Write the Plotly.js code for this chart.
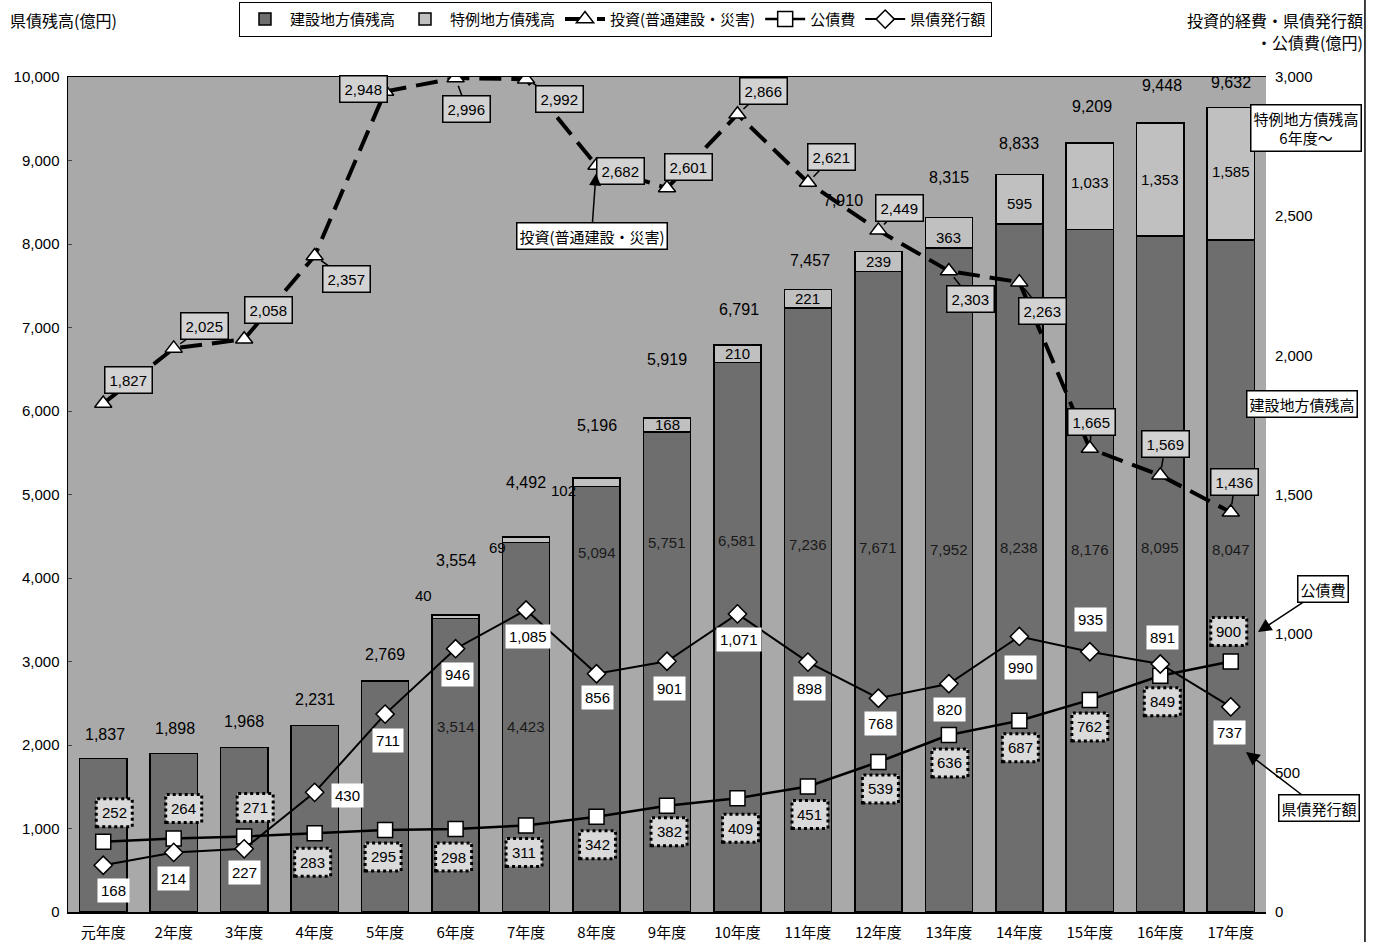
<!DOCTYPE html>
<html>
<head>
<meta charset="utf-8">
<script src="https://cdn.plot.ly/plotly-3.0.1.min.js"></script>
<style>html,body{margin:0;padding:0;background:#fff;}#chart{width:1381px;height:942px;}</style>
</head>
<body>
<div id="chart"></div>
<script>
// ---- data ----
const categories = ['元年度','2年度','3年度','4年度','5年度','6年度','7年度','8年度','9年度','10年度','11年度','12年度','13年度','14年度','15年度','16年度','17年度'];
const construction = [1837,1898,1968,2231,2769,3514,4423,5094,5751,6581,7236,7671,7952,8238,8176,8095,8047];
const special = [null,null,null,null,null,40,69,102,168,210,221,239,363,595,1033,1353,1585];
const totals = [1837,1898,1968,2231,2769,3554,4492,5196,5919,6791,7457,7910,8315,8833,9209,9448,9632];
const investment = [1827,2025,2058,2357,2948,2996,2992,2682,2601,2866,2621,2449,2303,2263,1665,1569,1436];
const debtService = [252,264,271,283,295,298,311,342,382,409,451,539,636,687,762,849,900];
const issuance = [168,214,227,430,711,946,1085,856,901,1071,898,768,820,990,935,891,737];

// ---- label placement (pixel offsets / label heights), not data ----
const totDx = [2,1,0,0,0,0,0,0,0,2,2,-35,0,0,2,2,0];
const totDy = [24,25,26,26,26,55,54,53,58,35,29,51,40,31,37,38,25];
const spDx = [0,0,0,0,0,-32,-29,-33,0,0,0,0,0,0,0,0,0];
const spDy = [0,0,0,0,0,20,-11,-12,0,0,0,0,-5,-4,4,0,2];
const conLabelY = [null,null,null,null,null,2220,2220,4310,4430,4450,4400,4360,4340,4370,4340,4370,4340];
const invDx = [25,31,24,32,-22,11,33,24,21,26,24,21,22,23,2,5,4];
const invDy = [23,22,29,-23,2,-31,-20,-5,21,23,25,22,-28,-29,27,31,30];
const dsDx = [11,10,11,-2,-2,-2,-2,1,2,3,2,2,1,1,0,2,-2];
const dsDy = [29,30,29,-29,-27,-28,-27,-28,-26,-30,-28,-27,-28,-27,-27,-26,30];
const isDx = [10,0,0,33,3,2,2,1,2,2,2,2,1,1,1,2,-1];
const isDy = [-25,-26,-24,-3,-26,-26,-26,-24,-27,-26,-26,-25,-26,-31,32,27,-26];

const fmt = v => v.toLocaleString('en-US');
const FONT = 'Liberation Sans, Arial, Noto Sans CJK JP, sans-serif';
const JFONT = 'Noto Sans CJK JP, sans-serif';

const traces = [
  {type:'bar', name:'建設地方債残高', x:categories, y:construction, width:0.67,
   marker:{color:'#6e6e6e', line:{color:'#000', width:1.5}}, hoverinfo:'skip'},
  {type:'bar', name:'特例地方債残高', x:categories, y:special, width:0.67,
   marker:{color:'#c0c0c0', line:{color:'#000', width:1.5}}, hoverinfo:'skip'},
  {type:'scatter', mode:'lines+markers', name:'投資(普通建設・災害)', x:categories, y:investment, yaxis:'y2',
   line:{color:'#000', width:4, dash:'22px,10px'},
   marker:{symbol:'triangle-up', size:15, color:'#fff', line:{color:'#000', width:1.5}}, hoverinfo:'skip'},
  {type:'scatter', mode:'lines+markers', name:'公債費', x:categories, y:debtService, yaxis:'y2',
   line:{color:'#000', width:2.5},
   marker:{symbol:'square', size:15, color:'#fff', line:{color:'#000', width:1.5}}, hoverinfo:'skip'},
  {type:'scatter', mode:'lines+markers', name:'県債発行額', x:categories, y:issuance, yaxis:'y2',
   line:{color:'#000', width:2},
   marker:{symbol:'diamond', size:14, color:'#fff', line:{color:'#000', width:1.5}}, hoverinfo:'skip'}
];

const annotations = [];
const shapes = [];

categories.forEach((c, i) => {
  annotations.push({x:c, y:totals[i], xref:'x', yref:'y', text:fmt(totals[i]), showarrow:false,
    xshift:totDx[i], yshift:totDy[i], font:{family:FONT, size:16, color:'#000'}});
  if (special[i] !== null) {
    const inside = i >= 8;
    annotations.push({x:c, y: inside ? construction[i] + special[i]/2 : totals[i], xref:'x', yref:'y',
      text:fmt(special[i]), showarrow:false, xshift:spDx[i], yshift:spDy[i],
      font:{family:FONT, size:15, color:'#000'}});
  }
  if (conLabelY[i] !== null) {
    annotations.push({x:c, y:conLabelY[i], xref:'x', yref:'y', text:fmt(construction[i]), showarrow:false,
      font:{family:FONT, size:15, color:'#1a1a1a'}});
  }
  annotations.push({x:c, y:investment[i], xref:'x', yref:'y2', text:fmt(investment[i]),
    showarrow:true, arrowhead:0, arrowwidth:1.5, arrowcolor:'#000', standoff:8,
    ax:invDx[i], ay:-invDy[i], bgcolor:'#d2d2d2', bordercolor:'#000', borderwidth:1.5, borderpad:4,
    font:{family:FONT, size:15, color:'#000'}});
  shapes.push({type:'rect', xref:'x', yref:'y2', xsizemode:'pixel', ysizemode:'pixel',
    xanchor:i, yanchor:debtService[i], x0:dsDx[i]-18, x1:dsDx[i]+18, y0:dsDy[i]-14, y1:dsDy[i]+14,
    fillcolor:'#dadada', line:{color:'#000', width:3, dash:'dot'}, layer:'above'});
  annotations.push({x:c, y:debtService[i], xref:'x', yref:'y2', text:fmt(debtService[i]), showarrow:false,
    xshift:dsDx[i], yshift:dsDy[i], font:{family:FONT, size:15, color:'#000'}});
  annotations.push({x:c, y:issuance[i], xref:'x', yref:'y2', text:fmt(issuance[i]), showarrow:false,
    xshift:isDx[i], yshift:isDy[i], bgcolor:'#fff', borderpad:3,
    font:{family:FONT, size:15, color:'#000'}});
});

annotations.push({x:categories[7], y:investment[7], xref:'x', yref:'y2', text:'投資(普通建設・災害)',
  showarrow:true, arrowhead:2, arrowsize:1.6, arrowwidth:1.5, standoff:8, ax:-5, ay:70,
  bgcolor:'#fff', bordercolor:'#000', borderwidth:1.5, borderpad:2, font:{family:JFONT, size:15, color:'#000'}});
annotations.push({x:1.0334, y:0.939, xref:'paper', yref:'paper', xanchor:'center', yanchor:'middle',
  text:'特例地方債残高<br>6年度〜',
  showarrow:false, bgcolor:'#fff', bordercolor:'#000', borderwidth:1.5, borderpad:2,
  font:{family:JFONT, size:15, color:'#000'}});
annotations.push({x:1.0301, y:0.608, xref:'paper', yref:'paper', xanchor:'center', yanchor:'middle',
  text:'建設地方債残高',
  showarrow:false, bgcolor:'#fff', bordercolor:'#000', borderwidth:1.5, borderpad:2,
  font:{family:JFONT, size:15, color:'#000'}});
annotations.push({x:0.9933, y:0.3353, xref:'paper', yref:'paper', text:'公債費',
  showarrow:true, arrowhead:2, arrowsize:1.8, arrowwidth:1.5, ax:65, ay:-43,
  bgcolor:'#fff', bordercolor:'#000', borderwidth:1.5, borderpad:2, font:{family:JFONT, size:15, color:'#000'}});
annotations.push({x:0.9833, y:0.1916, xref:'paper', yref:'paper', text:'県債発行額',
  showarrow:true, arrowhead:2, arrowsize:1.8, arrowwidth:1.5, ax:73, ay:56,
  bgcolor:'#fff', bordercolor:'#000', borderwidth:1.5, borderpad:2, font:{family:JFONT, size:15, color:'#000'}});
annotations.push({x:-0.05, y:1.068, xref:'paper', yref:'paper', xanchor:'left', yanchor:'middle', text:'県債残高(億円)',
  showarrow:false, font:{family:JFONT, size:16, color:'#000'}});
annotations.push({x:1.0826, y:1.068, xref:'paper', yref:'paper', xanchor:'right', yanchor:'middle', text:'投資的経費・県債発行額',
  showarrow:false, font:{family:JFONT, size:16, color:'#000'}});
annotations.push({x:1.0826, y:1.0419, xref:'paper', yref:'paper', xanchor:'right', yanchor:'middle', text:'・公債費(億円)',
  showarrow:false, font:{family:JFONT, size:16, color:'#000'}});

shapes.push({type:'line', xref:'paper', yref:'paper', x0:1.0826, x1:1.0826, y0:-0.04, y1:1.093,
  line:{color:'#000', width:1.5}});

const layout = {
  width:1381, height:942,
  margin:{l:68, r:115, t:77, b:30, autoexpand:false},
  paper_bgcolor:'#fff', plot_bgcolor:'#a9a9a9',
  barmode:'stack',
  showlegend:true,
  legend:{orientation:'h', x:0.457, xanchor:'center', y:1.09, yanchor:'top', traceorder:'normal',
    bgcolor:'#fff', bordercolor:'#000', borderwidth:1, font:{family:JFONT, size:15, color:'#000'},
    itemwidth:40},
  font:{family:FONT, color:'#000'},
  xaxis:{type:'category', range:[-0.5,16.5], autorange:false, tickfont:{family:JFONT, size:15, color:'#000'}, ticks:'', showline:true,
    linecolor:'#000', linewidth:1.5, mirror:true, ticklabelstandoff:6, fixedrange:true},
  yaxis:{range:[0,10000], dtick:1000, tickformat:',d', showgrid:false, zeroline:false,
    showline:true, linecolor:'#000', linewidth:1.5, ticks:'inside', ticklen:4,
    tickfont:{family:FONT, size:15, color:'#000'}, ticklabelstandoff:4},
  yaxis2:{range:[0,3000], dtick:500, tickformat:',d', overlaying:'y', side:'right', showgrid:false,
    zeroline:false, showline:false, ticks:'', tickfont:{family:FONT, size:15, color:'#000'}, ticklabelstandoff:8},
  annotations:annotations,
  shapes:shapes
};

Plotly.newPlot('chart', traces, layout, {displayModeBar:false, staticPlot:true});
</script>
</body>
</html>
